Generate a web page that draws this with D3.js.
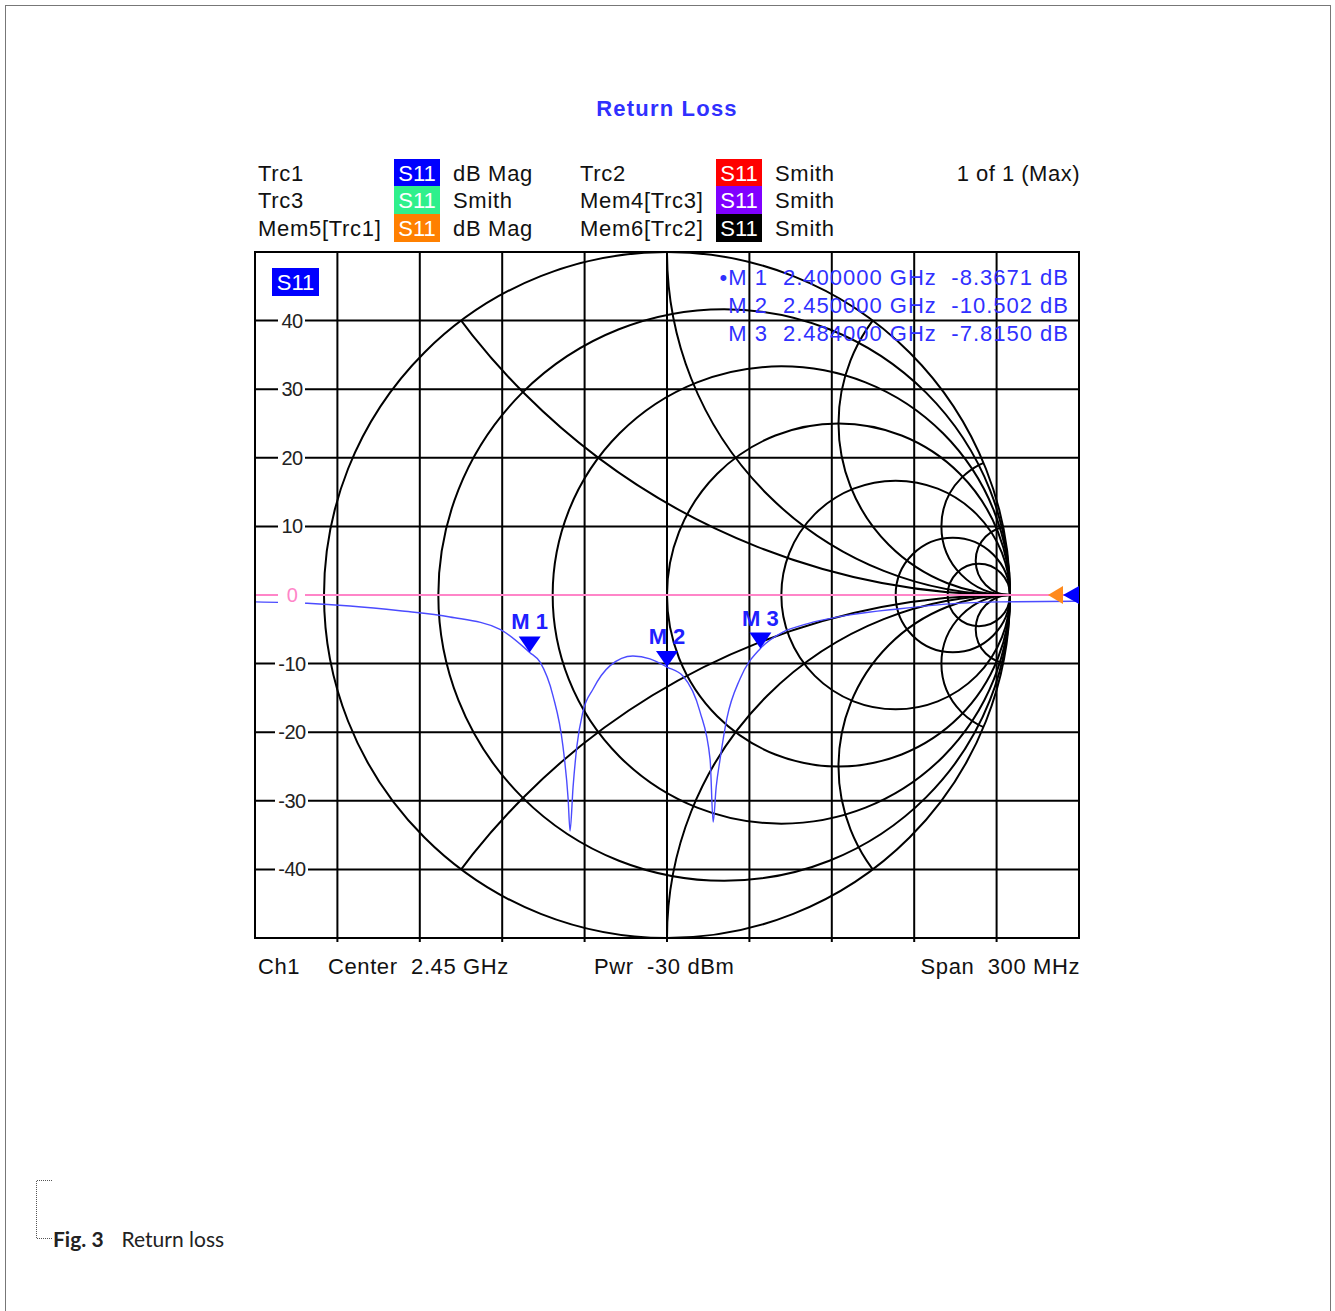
<!DOCTYPE html>
<html>
<head>
<meta charset="utf-8">
<script src="https://cdn.jsdelivr.net/npm/d3@7"></script>
<style>
  body { margin: 0; background: #fff; }
  text { font-family: "Liberation Sans", Arial, sans-serif; white-space: pre; }
  .cap { font-family: Lato, "Open Sans", sans-serif; }
</style>
</head>
<body>
<div id="chart"></div>
<script>
// trace samples (GHz, dB)
var freqGHz = [2.300, 2.319, 2.3346, 2.3528, 2.371, 2.3892, 2.400, 2.4038, 2.4085, 2.4121, 2.414, 2.4147,
  2.4158, 2.4172, 2.4194, 2.4231, 2.4293, 2.4376, 2.4438, 2.450, 2.4558, 2.462, 2.4657, 2.4668,
  2.4679, 2.4693, 2.4718, 2.4766, 2.484, 2.4922, 2.4984, 2.5166, 2.5348, 2.553, 2.5712, 2.600];
var s11dB = [-1.0, -1.2, -1.6, -2.3, -3.2, -5.0, -8.37, -9.8, -14.7, -22, -29.7, -34.4,
  -28, -22, -17, -13.7, -10.3, -8.9, -9.3, -10.5, -11.8, -17, -24, -33.1,
  -28, -24, -18, -12.2, -7.8, -5.4, -4.5, -2.9, -2.0, -1.3, -1.0, -0.9];

var markerNames = ["M 1", "M 2", "M 3"];
var markerFreq = [2.400, 2.450, 2.484];
var markerDB = [-8.3671, -10.502, -7.815];
var markerFreqText = ["2.400000 GHz", "2.450000 GHz", "2.484000 GHz"];
var markerDBText = ["-8.3671 dB", "-10.502 dB", "-7.8150 dB"];

var yTicks = [40, 30, 20, 10, 0, -10, -20, -30, -40];
var resistances = [0.2, 0.5, 1, 2, 5, 10];
var reactances = [0.5, 1, 2, 5, 10];

var legendNames = ["Trc1", "Trc3", "Mem5[Trc1]", "Trc2", "Mem4[Trc3]", "Mem6[Trc2]"];
var legendColors = ["#0000ff", "#2ff08c", "#ff8000", "#ff0000", "#8000ff", "#000000"];
var legendFormats = ["dB Mag", "Smith", "dB Mag", "Smith", "Smith", "Smith"];

var svgWidth = 1335, svgHeight = 1311;
var svg = d3.select("#chart").append("svg")
  .attr("width", svgWidth)
  .attr("height", svgHeight);

// page border
svg.append("rect")
  .attr("x", 5.5).attr("y", 5.5)
  .attr("width", 1325).attr("height", 1310)
  .attr("fill", "none").attr("stroke", "#777").attr("stroke-width", 1);

// plot area
var plotLeft = 255, plotRight = 1079, plotTop = 252, plotBottom = 938;
var x = d3.scaleLinear().domain([2.30, 2.60]).range([plotLeft, plotRight]);
var y = d3.scaleLinear().domain([-50, 50]).range([plotBottom, plotTop]);

var blue = "#3030ff";
var ink = "#111";

// title
svg.append("text")
  .attr("x", 667).attr("y", 116)
  .attr("text-anchor", "middle")
  .attr("font-size", 22).attr("font-weight", "bold")
  .attr("letter-spacing", 1.2)
  .attr("fill", blue)
  .text("Return Loss");

// legend
var rowY = [173, 200, 228];
legendNames.forEach(function(name, i) {
  var col = Math.floor(i / 3), row = i % 3;
  var x0 = col === 0 ? 258 : 580;
  var bx = col === 0 ? 394 : 716;
  var cy = rowY[row];
  svg.append("text").attr("x", x0).attr("y", cy + 8)
    .attr("font-size", 22).attr("letter-spacing", 0.7).attr("fill", ink).text(name);
  svg.append("rect").attr("x", bx).attr("y", cy - 14).attr("width", 46).attr("height", 28)
    .attr("fill", legendColors[i]);
  svg.append("text").attr("x", bx + 23).attr("y", cy + 8).attr("text-anchor", "middle")
    .attr("font-size", 22).attr("fill", "#fff").text("S11");
  svg.append("text").attr("x", bx + 59).attr("y", cy + 8)
    .attr("font-size", 22).attr("letter-spacing", 0.7).attr("fill", ink).text(legendFormats[i]);
});
svg.append("text").attr("x", 1080).attr("y", rowY[0] + 8).attr("text-anchor", "end")
  .attr("font-size", 22).attr("letter-spacing", 0.5).attr("fill", ink).text("1 of 1 (Max)");

var plot = svg.append("g");

// rectangular grid
var xGrid = d3.range(1, 10).map(function(i) { return 2.30 + i * 0.03; });
plot.selectAll(".vgrid").data(xGrid).enter().append("line")
  .attr("x1", d => x(d)).attr("x2", d => x(d))
  .attr("y1", plotTop).attr("y2", plotBottom + 4)
  .attr("stroke", "#000").attr("stroke-width", 2);
plot.selectAll(".hgrid").data(yTicks.filter(d => d !== 0)).enter().append("line")
  .attr("x1", plotLeft).attr("x2", plotRight)
  .attr("y1", d => y(d)).attr("y2", d => y(d))
  .attr("stroke", "#000").attr("stroke-width", 2);

// smith chart
var cx = x(2.45), cy = y(0), R = (plotBottom - plotTop) / 2;
var g = d3.scaleLinear().domain([-1, 1]).range([cx - R, cx + R]);
var gy = d3.scaleLinear().domain([-1, 1]).range([cy + R, cy - R]);

svg.append("defs").append("clipPath").attr("id", "unit")
  .append("circle").attr("cx", cx).attr("cy", cy).attr("r", R);

var smith = plot.append("g").attr("fill", "none").attr("stroke", "#000").attr("stroke-width", 2);
smith.append("circle").attr("cx", cx).attr("cy", cy).attr("r", R);
smith.selectAll(".rc").data(resistances).enter().append("circle")
  .attr("cx", d => g(d / (1 + d)))
  .attr("cy", cy)
  .attr("r", d => R / (1 + d));
var arcs = smith.append("g").attr("clip-path", "url(#unit)");
[1, -1].forEach(function(sgn) {
  arcs.selectAll(".xc" + sgn).data(reactances).enter().append("circle")
    .attr("cx", g(1))
    .attr("cy", d => gy(sgn / d))
    .attr("r", d => R / d);
});

// reference line
plot.append("line")
  .attr("x1", plotLeft).attr("x2", plotRight)
  .attr("y1", y(0)).attr("y2", y(0))
  .attr("stroke", "#ff85c8").attr("stroke-width", 2);

// trace
var pts = freqGHz.map(function(f, i) { return [f, s11dB[i]]; });
var line = d3.line().x(d => x(d[0])).y(d => y(d[1])).curve(d3.curveMonotoneX);
plot.append("path").datum(pts)
  .attr("d", line)
  .attr("fill", "none").attr("stroke", "#4b4bff").attr("stroke-width", 1.4);

// frame
plot.append("rect")
  .attr("x", plotLeft).attr("y", plotTop)
  .attr("width", plotRight - plotLeft).attr("height", plotBottom - plotTop)
  .attr("fill", "none").attr("stroke", "#000").attr("stroke-width", 2);

// y tick labels with white background
var tl = plot.selectAll(".ytl").data(yTicks).enter().append("g");
tl.append("rect")
  .attr("x", d => d < 0 ? 275 : 278).attr("y", d => y(d) - 10)
  .attr("width", d => d < 0 ? 33 : 27).attr("height", 20)
  .attr("fill", "#fff");
tl.append("text")
  .attr("x", 292).attr("y", d => y(d) + 7)
  .attr("text-anchor", "middle")
  .attr("font-size", 20).attr("letter-spacing", -0.5)
  .attr("fill", d => d === 0 ? "#ff85c8" : "#222")
  .text(d => d);

// S11 badge
plot.append("rect").attr("x", 272).attr("y", 268).attr("width", 47).attr("height", 28).attr("fill", "#0000ff");
plot.append("text").attr("x", 295.5).attr("y", 290).attr("text-anchor", "middle")
  .attr("font-size", 22).attr("fill", "#fff").text("S11");

// marker readout
markerNames.forEach(function(m, i) {
  var ty = 285 + i * 28;
  svg.append("text").attr("x", 768).attr("y", ty).attr("text-anchor", "end")
    .attr("font-size", 22).attr("letter-spacing", 1).attr("fill", blue)
    .text((i === 0 ? "\u2022" : "") + m);
  svg.append("text").attr("x", 783).attr("y", ty)
    .attr("font-size", 22).attr("letter-spacing", 1).attr("fill", blue)
    .text(markerFreqText[i]);
  svg.append("text").attr("x", 1069).attr("y", ty).attr("text-anchor", "end")
    .attr("font-size", 22).attr("letter-spacing", 1).attr("fill", blue)
    .text(markerDBText[i]);
});

// markers on trace
markerNames.forEach(function(m, i) {
  var mx = x(markerFreq[i]), my = y(markerDB[i]);
  plot.append("path")
    .attr("d", "M" + (mx - 11) + "," + (my - 16) + "L" + (mx + 11) + "," + (my - 16) + "L" + mx + "," + my + "Z")
    .attr("fill", "#0000ff");
  plot.append("text").attr("x", mx).attr("y", my - 23).attr("text-anchor", "middle")
    .attr("font-size", 22).attr("font-weight", "bold").attr("fill", "#2020ff")
    .text(m);
});

// reference level arrows at the right edge
plot.append("path")
  .attr("d", "M1048," + y(0) + "L1063," + (y(0) - 9) + "L1063," + (y(0) + 9) + "Z")
  .attr("fill", "#ff8a1c");
plot.append("path")
  .attr("d", "M1063," + y(0) + "L1079," + (y(0) - 9) + "L1079," + (y(0) + 9) + "Z")
  .attr("fill", "#0000ff");

// footer
var footY = 974;
svg.append("text").attr("x", 258).attr("y", footY).attr("font-size", 22).attr("letter-spacing", 0.6).attr("fill", ink).text("Ch1");
svg.append("text").attr("x", 328).attr("y", footY).attr("font-size", 22).attr("letter-spacing", 0.6).attr("fill", ink).text("Center  2.45 GHz");
svg.append("text").attr("x", 594).attr("y", footY).attr("font-size", 22).attr("letter-spacing", 0.6).attr("fill", ink).text("Pwr  -30 dBm");
svg.append("text").attr("x", 1080).attr("y", footY).attr("text-anchor", "end").attr("font-size", 22).attr("letter-spacing", 0.6).attr("fill", ink).text("Span  300 MHz");

// caption
svg.append("path")
  .attr("d", "M52,1180.5H36.5V1238.5H52")
  .attr("fill", "none").attr("stroke", "#555").attr("stroke-width", 1).attr("stroke-dasharray", "1,1");
var cap = svg.append("text").attr("class", "cap").attr("x", 53).attr("y", 1247).attr("font-size", 21).attr("fill", "#222");
cap.append("tspan").attr("font-weight", "bold").text("Fig. 3");
cap.append("tspan").attr("dx", 18).text("Return loss");
</script>
</body>
</html>
